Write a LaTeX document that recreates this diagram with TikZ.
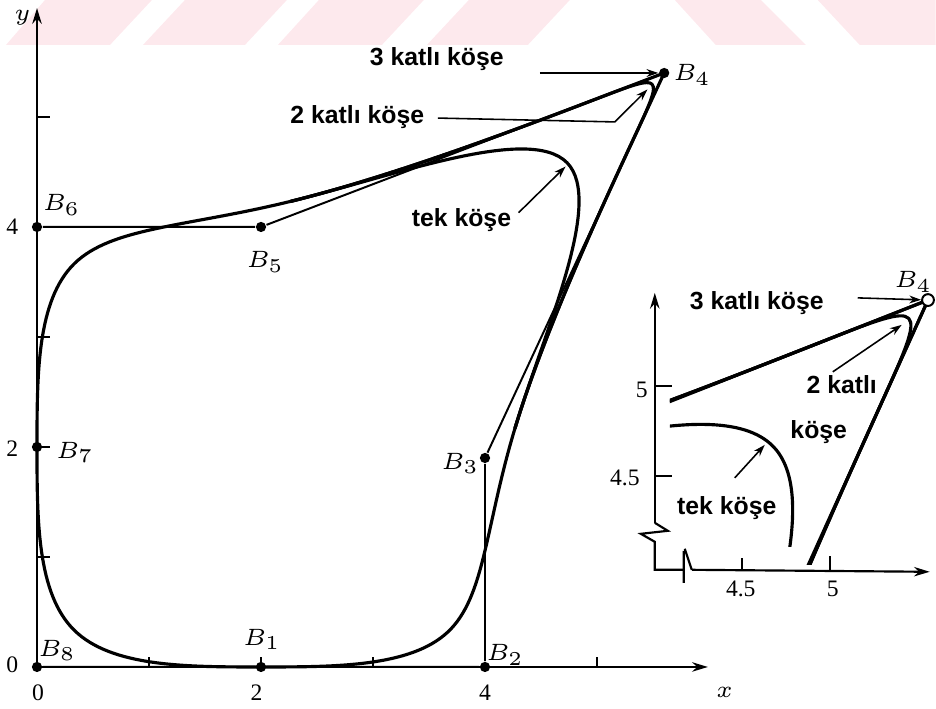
\documentclass[tikz,border=0pt]{standalone}
\usepackage{fontspec}
\setmainfont{Liberation Serif}
\setsansfont{Liberation Sans}
\usepackage{xcolor}
\usetikzlibrary{arrows.meta,calc,positioning}

\definecolor{wmpink}{RGB}{253,233,237}

% uniform cubic B-spline: start point and one piece (P0,P1,P2,P3) as a Bezier
\newcommand{\bstart}[3]{($.16667*(#1)+.66667*(#2)+.16667*(#3)$)}
\newcommand{\bseg}[4]{.. controls ($(#2)!1/3!(#3)$) and ($(#2)!2/3!(#3)$) .. ($.16667*(#2)+.66667*(#3)+.16667*(#4)$)}
% closed curve, single vertex at 4
\newcommand{\tekcurve}[1]{%
  \draw[curve] \bstart{#18}{#11}{#12} \bseg{#18}{#11}{#12}{#13} \bseg{#11}{#12}{#13}{#14}
    \bseg{#12}{#13}{#14}{#15} \bseg{#13}{#14}{#15}{#16} \bseg{#14}{#15}{#16}{#17}
    \bseg{#15}{#16}{#17}{#18} \bseg{#16}{#17}{#18}{#11} \bseg{#17}{#18}{#11}{#12};}
% the parts that change with a double and a triple vertex at 4
\newcommand{\katcurves}[1]{%
  \draw[curve] \bstart{#12}{#13}{#14} \bseg{#12}{#13}{#14}{#14} \bseg{#13}{#14}{#14}{#15}
    \bseg{#14}{#14}{#15}{#16};
  \draw[curve] \bstart{#12}{#13}{#14} \bseg{#12}{#13}{#14}{#14} \bseg{#13}{#14}{#14}{#14}
    \bseg{#14}{#14}{#14}{#15} \bseg{#14}{#14}{#15}{#16};}

\begin{document}
\begin{tikzpicture}[
  x=1cm, y=0.98214cm,
  curve/.style={line width=0.8pt, line join=round},
  poly/.style={line width=0.5pt},
  axis/.style={line width=0.55pt},
  tk/.style={line width=0.45pt},
  vtx/.style={circle, fill, inner sep=0pt, minimum size=2.6pt},
  vtxo/.style={circle, draw, fill=white, line width=0.5pt, inner sep=0pt, minimum size=3pt},
  lbl/.style={font=\fontsize{6.2}{7}\selectfont, inner sep=0.5pt},
  num/.style={font=\fontsize{6}{7}\selectfont, inner sep=0.5pt},
  note/.style={font=\sffamily\bfseries\fontsize{6.3}{7.5}\selectfont, inner sep=0.5pt},
  lead/.style={line width=0.4pt, -{Stealth[length=3pt,width=2pt]}},
  axarr/.style={-{Stealth[length=4pt,width=2.4pt]}},
  pix/.style={shift={(-0.3304cm,5.9554cm)}, x=0.0089286cm, y=-0.0089286cm}
]
  \useasboundingbox (-0.3304cm,-0.3750cm) rectangle (8.0268cm,5.9554cm);

  % watermark band
  \begin{scope}[pix]
    \fill[wmpink] (6,45) -- (45,0) -- (152,0) -- (110,45) -- cycle;
    \fill[wmpink] (143,45) -- (185,0) -- (287,0) -- (245,45) -- cycle;
    \fill[wmpink] (278,45) -- (319,0) -- (424,0) -- (382,45) -- cycle;
    \fill[wmpink] (427,45) -- (469,0) -- (570,0) -- (528,45) -- cycle;
    \fill[wmpink] (675,0) -- (761,0) -- (806,45) -- (716,45) -- cycle;
    \fill[wmpink] (818,0) -- (936,0) -- (936,45) -- (860,45) -- cycle;
  \end{scope}

  % Axes
  \draw[axis, axarr] (0,0) -- (0,5.99);
  \draw[axis, axarr] (0,0) -- (5.99,0);
  \draw[tk] (1,0) -- (1,.09) (2,0) -- (2,.09) (3,0) -- (3,.09) (5,0) -- (5,.09)
    (0,1) -- (.12,1) (0,2) -- (.12,2) (0,3) -- (.12,3) (0,5) -- (.12,5);
  \node[num] (nx0) at (0.01,-0.23) {0};
  \node[num] (nx2) at (1.96,-0.23) {2};
  \node[num] (nx4) at (4.0,-0.23) {4};
  \node[lbl] (xlab) at (6.14,-0.23) {$x$};
  \node[num] (ny0) at (-0.22,0.02) {0};
  \node[num] (ny2) at (-0.22,1.98) {2};
  \node[num] (ny4) at (-0.22,4.0) {4};
  \node[lbl] (ylab) at (-0.13,5.9) {$y$};

  % Polygon vertices
  \node[vtx] (B1) at (2,0) {};
  \node[vtx] (B2) at (4,0) {};
  \node[vtx] (B3) at (4,1.9) {};
  \node[vtx] (B4) at (5.6,5.4) {};
  \node[vtx] (B5) at (2,4) {};
  \node[vtx] (B6) at (0,4) {};
  \node[vtx] (B7) at (0,2) {};
  \node[vtx] (B8) at (0,0) {};
  \node[lbl] (lB1) at (2.01,0.25) {$B_1$};
  \node[lbl] (lB2) at (4.18,0.11) {$B_2$};
  \node[lbl] (lB3) at (3.78,1.85) {$B_3$};
  \node[lbl] (lB4) at (5.85,5.38) {$B_4$};
  \node[lbl] (lB5) at (2.04,3.68) {$B_5$};
  \node[lbl] (lB6) at (0.22,4.2) {$B_6$};
  \node[lbl] (lB7) at (0.34,1.95) {$B_7$};
  \node[lbl] (lB8) at (0.18,0.15) {$B_8$};

  \draw[poly] (B1) -- (B2) -- (B3) -- (B4) -- (B5) -- (B6) -- (B7) -- (B8) -- (B1);

  % Curves
  \tekcurve{B}
  \katcurves{B}

  % Notes
  \node[note] (kat3) at (3.57,5.53) {3 katlı köşe};
  \coordinate (kat3s) at (4.49,5.40);
  \draw[lead] (kat3s) -- (B4);
  \node[note] (kat2) at (2.86,5.0) {2 katlı köşe};
  \coordinate (kat2s) at (3.58,4.99);
  \coordinate (kat2b) at (5.16,4.955);
  \coordinate (kat2e) at (5.45,5.25);
  \draw[lead] (kat2s) -- (kat2b) -- (kat2e);
  \node[note] (tek) at (3.79,4.06) {tek köşe};
  \coordinate (teks) at (4.30,4.13);
  \coordinate (teke) at (4.72,4.55);
  \draw[lead] (teks) -- (teke);

  % Inset: curves near B4
  \begin{scope}[x=1.5893cm, y=1.6071cm, shift={(-0.9446cm,-5.4022cm)}]
    \coordinate (C1) at (2,0);
    \coordinate (C2) at (4,0);
    \coordinate (C3) at (4,1.9);
    \coordinate (C4) at (5.6,5.4);
    \coordinate (C5) at (2,4);
    \coordinate (C6) at (0,4);
    \coordinate (C7) at (0,2);
    \coordinate (C8) at (0,0);
    \begin{scope}
      \clip (4.15,3.93) rectangle (6.5,6);
      \draw[curve] (C3) -- (C4) -- (C5);
      \katcurves{C}
    \end{scope}
    \begin{scope}
      \clip (4.15,4.03) rectangle (6.5,6);
      \tekcurve{C}
    \end{scope}
    \node[vtxo] (c4dot) at (C4) {};
  \end{scope}

  % Inset: axes and notes
  \begin{scope}[pix]
    \draw[axis, axarr] (655,523) -- (655,293);
    \draw[axis] (655,523) -- (668,531) -- (641,534) -- (655,542) -- (655,570) -- (685,570);
    \draw[axis] (684,551) -- (684,583) (685,549) -- (692,570);
    \draw[axis, axarr] (692,570) -- (930,572);
    \draw[tk] (655,386) -- (672,386) (655,476) -- (672,476)
      (742,570) -- (742,558) (830,570) -- (830,556);
    \node[num] (iy5) at (642,390) {5};
    \node[num] (iy45) at (625,478) {4.5};
    \node[num] (ix45) at (741,589) {4.5};
    \node[num] (ix5) at (833,589) {5};
    \node[lbl, anchor=east] (iB4) at (935,282) {$B_4$};

    \node[note] (ikat3) at (757,303) {3 katlı köşe};
    \coordinate (ikat3s) at (858,298);
    \draw[lead] (ikat3s) -- (c4dot);
    \node[note] (ikat2) at (842,385) {2 katlı};
    \node[note] (ikose) at (819,432) {köşe};
    \coordinate (ikat2s) at (833,372);
    \coordinate (ikat2e) at (902,325);
    \draw[lead] (ikat2s) -- (ikat2e);
    \node[note] (itek) at (727,508) {tek köşe};
    \coordinate (iteks) at (735,478);
    \coordinate (iteke) at (765,445);
    \draw[lead] (iteks) -- (iteke);
  \end{scope}
\end{tikzpicture}
\end{document}
